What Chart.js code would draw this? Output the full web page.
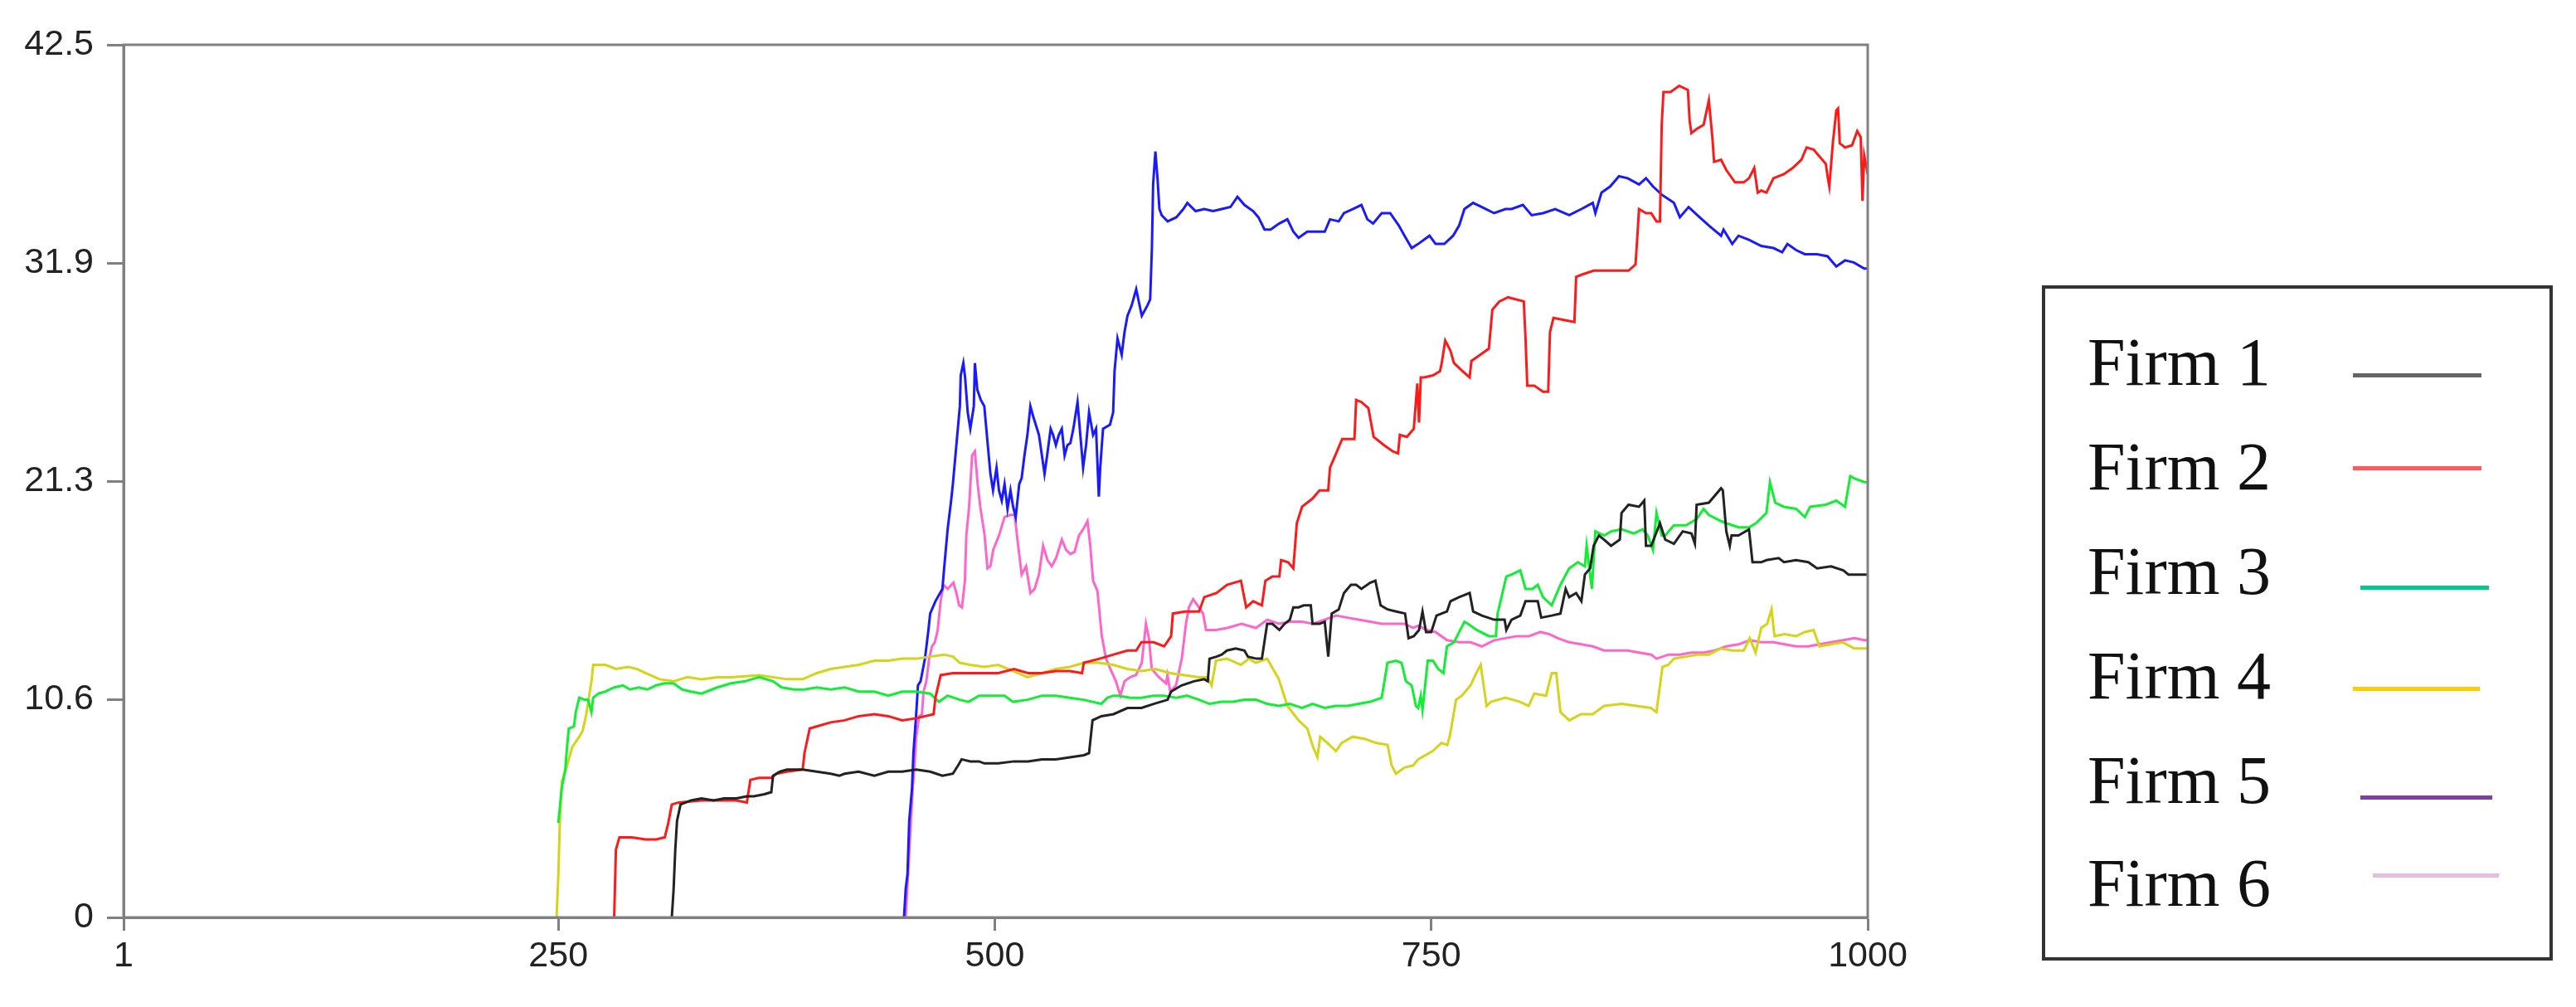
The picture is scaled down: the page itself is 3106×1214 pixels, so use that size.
<!DOCTYPE html>
<html>
<head>
<meta charset="utf-8">
<script src="https://cdn.jsdelivr.net/npm/chart.js@4/dist/chart.umd.min.js"></script>
<style>
  body { margin: 0; background: #fff; }
  #wrap { position: relative; width: 3106px; height: 1214px; }
  #legendBox {
    position: absolute; left: 2462px; top: 344px; width: 616px; height: 814px;
    border: 4px solid #333; box-sizing: border-box;
  }
  .lgText {
    position: absolute; font-family: "Liberation Serif", "Times New Roman", serif;
    font-size: 82px; line-height: 82px; color: #111; white-space: nowrap;
  }
  .lgLine { position: absolute; height: 5px; }
</style>
</head>
<body>
<div id="wrap">
  <canvas id="firmChart" width="3106" height="1214"></canvas>
  <div id="legend"></div>
</div>
<script>
// series data, [x, y]
const firmNames = ['Firm 1', 'Firm 2', 'Firm 3', 'Firm 4', 'Firm 5', 'Firm 6'];

const firm1 = [[315,0],[316,1.3],[317,3.3],[318,4.7],[320,5.5],[326,5.7],[332,5.8],[339,5.7],[345,5.8],[352,5.8],[358,5.9],[362,5.9],[368,6.0],[372,6.1],[373,6.9],[377,7.1],[381,7.2],[390,7.2],[398,7.1],[406,7.0],[411,6.9],[414,7.0],[422,7.1],[431,6.9],[439,7.1],[447,7.1],[455,7.2],[463,7.1],[470,6.9],[476,7.0],[479,7.4],[481,7.7],[486,7.6],[491,7.6],
  [494,7.5],[502,7.5],[511,7.6],[519,7.6],[527,7.7],[535,7.7],[543,7.8],[551,7.9],[554,8.0],[556,9.6],[561,9.8],[568,9.9],[576,10.2],[584,10.2],[591,10.4],[599,10.6],[601,11.0],[607,11.3],[614,11.5],[620,11.6],[622,11.5],[623,12.6],[627,12.7],[630,12.8],[633,13.0],[638,13.1],[643,13.0],[645,12.7],[650,12.6],[653,12.6],[656,14.3],[659,14.3],[663,14.0],[666,14.3],[669,14.5],[671,15.1],[674,15.1],[677,15.2],[681,15.2],[682,14.3],[686,14.3],[689,14.4],[691,12.7],[693,14.8],[697,15.0],[700,15.8],[704,16.2],[707,16.2],[710,16.0],[715,16.3],[718,16.4],[721,15.2],[725,15.0],[730,14.9],[735,14.8],[737,13.6],[740,13.7],[743,14.0],
  [745,14.9],[747,13.9],[750,13.9],[753,14.7],[756,14.8],[759,14.9],[761,15.4],[766,15.6],[772,15.8],[774,14.9],[779,14.7],[786,14.5],[788,14.5],[792,14.5],[793,14.0],[796,14.5],[801,14.7],[804,15.4],[811,15.4],[813,14.6],[819,14.7],[824,14.8],[827,16.0],[829,15.6],[833,15.8],[836,15.4],[838,16.7],[841,17.0],[843,18.1],[846,18.6],[849,18.4],[853,18.1],[858,18.4],[859,19.7],[863,20.1],[869,20.0],[872,20.3],[873,18.1],[876,18.1],[881,19.2],[884,18.4],[889,18.2],[894,18.8],[899,18.7],[901,18.2],[902,20.1],[909,20.2],[916,20.9],[917,20.8],[919,18.8],[921,18.1],[922,18.6],[926,18.6],[932,18.9],[934,17.3],[939,17.3],[942,17.4],[949,17.5],[952,17.3],[959,17.4],[966,17.3],[971,17.0],[979,17.1],[986,16.9],[989,16.7],[1000,16.7]];

const firm2 = [[282,0],[283,3.3],[285,3.9],[292,3.9],[300,3.8],[306,3.8],[311,3.9],[313,4.6],[315,5.5],[319,5.6],[332,5.7],[345,5.7],[352,5.7],[358,5.6],[360,6.7],[365,6.8],[372,6.8],[375,7.0],[381,7.1],[390,7.2],[391,8.0],[394,9.2],[398,9.3],[406,9.5],[414,9.6],[422,9.8],[431,9.9],[439,9.8],[447,9.6],[455,9.7],[465,9.9],[466,10.7],[469,11.8],[476,11.9],[483,11.9],[491,11.9],
  [494,11.9],[502,11.9],[511,12.1],[519,11.9],[527,11.9],[535,12.0],[543,12.0],[550,11.9],[551,12.4],[560,12.6],[568,12.8],[576,13.0],[581,13.0],[584,13.4],[591,13.4],[597,13.2],[601,13.7],[602,14.8],[609,14.9],[614,14.9],[617,14.9],[620,15.6],[627,15.8],[633,16.2],[641,16.4],[644,15.1],[648,15.4],[653,15.2],[655,16.4],[659,16.6],[663,16.6],[664,17.4],[668,17.3],[671,17.0],[673,19.2],[676,20.0],[682,20.4],[686,20.8],[691,20.8],[692,21.9],[695,22.5],[699,23.3],[704,23.3],[706,23.3],[707,25.2],[710,25.1],[714,24.8],[717,23.4],[723,23.0],[728,22.7],[731,22.6],[732,23.5],[736,23.4],[740,23.8],[742,26.0],
  [743,24.1],[744,26.3],[746,26.3],[751,26.4],[755,26.6],[756,27.0],[758,28.1],[761,27.6],[763,27.0],[768,26.6],[772,26.3],[773,27.1],[778,27.4],[783,27.7],[785,29.6],[789,30.0],[794,30.2],[803,30.0],[804,28.2],[805,25.9],[809,25.9],[814,25.6],[817,25.6],[818,28.5],[820,29.2],[826,29.1],[832,29.0],[833,31.2],[836,31.3],[843,31.5],[849,31.5],[856,31.5],[863,31.5],[867,31.8],[868,33.1],[869,34.5],[873,34.3],[876,34.3],[879,33.9],[881,33.9],[882,38.6],[883,40.2],[887,40.2],[892,40.5],[897,40.3],[898,38.8],[899,38.2],[902,38.4],[906,38.6],[909,39.8],[911,38.0],[912,36.8],[916,36.9],[919,36.4],[924,35.8],[929,35.8],[932,36.0],[935,36.5],[937,35.3],[939,35.4],[942,35.3],[946,36.0],[952,36.2],[957,36.5],[962,36.9],[965,37.5],[969,37.4],[972,37.1],[976,36.7],[977,36.1],[978,35.6],[980,37.7],[982,39.3],[983,39.4],[984,37.7],[987,37.5],[991,37.6],[994,38.3],[996,38.0],[997,34.9],[998,37.1],[1000,36.2]];

const firm3 = [[250,4.6],[252,6.3],[254,7.2],[255,8.3],[256,9.2],[259,9.3],[260,10.0],[262,10.7],[265,10.6],[267,10.6],[269,10.0],[270,10.7],[273,10.9],[277,11.0],[282,11.2],[287,11.3],[291,11.1],[296,11.2],[301,11.1],[306,11.3],[311,11.4],[316,11.4],[321,11.1],[326,11.0],[332,10.9],[341,11.2],[349,11.4],[357,11.5],[365,11.7],[373,11.5],[378,11.2],[385,11.1],[391,11.1],[398,11.2],[406,11.1],[414,11.2],[422,11.0],[431,11.0],[439,10.8],[447,11.0],[455,11.0],[463,10.9],[468,10.5],[473,10.8],[480,10.6],[485,10.5],[491,10.8],
  [492.5,10.8],[499,10.8],[505.6,10.8],[510.5,10.5],[518.7,10.6],[527,10.8],[535,10.8],[543,10.7],[551,10.6],[556,10.5],[561,10.4],[564.5,10.7],[568,10.8],[571,10.8],[577.6,10.7],[584,10.7],[590.7,10.8],[597,10.8],[604,10.7],[610,10.8],[617,10.6],[623,10.4],[630,10.5],[636.5,10.5],[643,10.6],[649.6,10.6],[656,10.4],[662.7,10.3],[669,10.4],[676,10.2],[682,10.4],[689,10.2],[695,10.3],[702,10.3],[708.5,10.4],[715,10.5],[721.6,10.7],[723.2,11.5],[724.9,12.4],[729.8,12.5],[733,12.4],[735.5,11.5],[738.8,11.3],[741.2,10.3],[742.5,10.2],
  [744,10.8],[745,10.1],[748,12.5],[751,12.5],[754,12.1],[757,11.9],[759,13.2],[763,13.4],[766,13.9],[769,14.4],[771,14.3],[776,14.0],[783,13.7],[787,13.7],[788,14.8],[793,16.6],[796,16.7],[801,16.9],[804,16.0],[808,16.0],[811,16.2],[814,15.6],[819,15.2],[824,16.2],[829,17.0],[834,17.3],[838,17.1],[839,18.1],[842,16.0],[844,18.8],[849,18.6],[853,18.8],[859,18.9],[866,18.7],[871,18.9],[874,18.6],[877,17.9],[879,19.7],[882,18.6],[884,18.6],[889,19.1],[896,19.1],[902,19.4],[906,19.9],[909,19.6],[916,19.3],[919,19.2],[926,19.0],[932,19.0],[936,19.2],[942,19.7],[944,21.2],[947,20.2],[952,20.0],[959,19.9],[964,19.5],[967,20.0],[976,20.1],[982,20.3],[987,20.0],[990,21.5],[992,21.4],[998,21.2],[1000,21.2]];

const firm4 = [[249,0],[250,2.0],[251,5.0],[252,6.6],[255,7.4],[258,8.3],[262,8.8],[264,9.1],[266,9.9],[269,11.5],[270,12.3],[277,12.3],[283,12.1],[290,12.2],[295,12.1],[300,11.9],[308,11.6],[316,11.5],[324,11.7],[332,11.6],[341,11.7],[349,11.7],[365,11.8],[373,11.7],[381,11.6],[390,11.6],[398,11.9],[406,12.1],[414,12.2],[422,12.3],[431,12.5],[439,12.5],[447,12.6],[455,12.6],[463,12.7],[471,12.8],[476,12.7],[480,12.4],[486,12.3],
  [494,12.2],[502,12.3],[510.5,12.0],[518.7,11.7],[527,11.9],[535,12.1],[543,12.2],[551,12.4],[559.6,12.4],[567.8,12.3],[576,12.1],[584,12.0],[592,12.1],[600.5,11.9],[608.7,11.8],[617,11.7],[621.8,11.7],[624.2,11.3],[626.7,12.5],[633,12.6],[641,12.3],[645.5,12.6],[649.6,12.4],[656,12.6],[659.4,12.1],[662.7,11.6],[667.6,10.3],[674,9.6],[679,9.2],[682.3,8.3],[684.8,7.8],[686.4,8.8],[690.5,8.5],[695.4,8.1],[698.7,8.5],[705,8.8],[711.8,8.7],[718.3,8.5],[725,8.4],[727.3,7.4],[729.8,7.0],[734.7,7.3],[739.6,7.4],[742.5,7.7],
  [750.8,8.1],[755.8,8.5],[759.2,8.4],[760.8,8.9],[764.2,10.6],[767.5,10.8],[772.5,11.3],[775.8,11.9],[778.3,12.3],[781.7,10.3],[784.2,10.5],[792.5,10.7],[800.8,10.5],[805.8,10.3],[809,10.9],[815.8,10.8],[819,11.9],[821.6,11.9],[824,10.0],[829,9.6],[835.8,9.9],[842.5,9.9],[849,10.3],[859,10.4],[867.5,10.3],[875.8,10.2],[879,10.0],[882.4,12.2],[885.8,12.3],[889,12.6],[895.8,12.7],[902.4,12.8],[909,12.8],[915.8,13.1],[922.4,13.0],[929,13.0],[932.4,13.6],[935.8,12.9],[939,14.1],[942.4,14.3],[944.9,15.0],[946.6,13.7],[952.4,13.8],[959,13.7],[964,13.9],[969,14.0],[972.4,13.2],[979,13.3],[985.7,13.4],[992.4,13.1],[1000,13.1]];

const firm5 = [[448,0],[449,1.4],[450,2.1],[451,4.7],[452.6,6.3],[453.4,8.0],[455,9.9],[456,11.3],[457.5,11.5],[460,12.6],[462,14.0],[463,14.8],[466,15.4],[470,16.0],[471,17.0],[473,18.9],[475,20.3],[476,21.1],[478,23.0],[480,24.9],[480.5,26.4],[482,27.0],[483,26.3],[484.5,24.6],[486,23.8],[488,24.9],[488.6,27.0],[490,25.7],
  [492,25.2],[494,24.9],[496,23.0],[497.5,21.6],[499,20.8],[501,21.9],[502.4,20.8],[504,20.3],[505.6,21.1],[507.3,19.9],[509,20.8],[510.5,20.0],[512,19.5],[514,21.1],[515.4,21.4],[517,22.5],[518.7,23.5],[520.4,24.9],[522,24.4],[525.3,23.5],[527,22.5],[528.5,21.6],[530,22.5],[532,23.8],[533.4,23.5],[535,23.0],[536.7,23.5],[538.4,23.8],[540,22.5],[541.6,23.0],[543.3,23.1],[545,23.8],[547.4,25.1],[549,23.5],[550.6,21.9],[552.3,23.0],[554,24.6],[556.3,23.5],[558,23.8],[559.6,20.5],[560.4,21.9],[562,23.8],[566,24.0],[567.8,24.6],[568.6,26.6],[570.3,28.2],[572.7,27.4],[574.3,28.5],[576,29.3],[578.4,29.8],[581,30.6],[584.2,29.3],[587.4,29.8],[589,30.1],[590,32.6],[590.7,35.7],[592,37.3],[593.2,36.0],[594.3,34.5],[595.6,34.2],[599,33.9],[604,34.1],[608,34.5],[610.3,34.8],[615,34.4],[620,34.5],[625,34.4],[630,34.5],[635,34.6],[639,35.1],[643,34.7],[648,34.4],[651,34.1],[654.5,33.5],[658,33.5],[663,33.8],[667.6,34.0],[671,33.4],[674,33.1],[679,33.4],[684,33.4],[689,33.4],[692,34.0],[697,33.9],[700,34.3],[705,34.5],[710,34.7],[713.4,34.0],[716.7,33.8],[721.6,34.3],[726.5,34.3],[731.4,33.7],[734.7,33.2],[738.8,32.6],[742.5,32.8],
  [749,33.2],[752.5,32.8],[757.5,32.8],[762.5,33.2],[766,33.7],[769,34.5],[774,34.8],[779,34.6],[786,34.3],[792.5,34.5],[796,34.5],[802.5,34.7],[807.5,34.2],[814,34.3],[821,34.5],[829,34.2],[836,34.5],[842.5,34.8],[844,34.3],[847.5,35.3],[852.5,35.6],[857.5,36.1],[862.5,36.0],[869,35.7],[873,36.0],[877,35.6],[882,35.2],[889,34.8],[892.4,34.1],[897.4,34.6],[902.4,34.2],[909,33.7],[916,33.2],[917.4,33.5],[922.4,32.8],[926,33.2],[932,33.0],[939,32.7],[946,32.6],[951,32.4],[954,32.8],[959,32.5],[964,32.3],[971,32.3],[977,32.2],[982,31.7],[987,32.0],[992,31.9],[998,31.6],[1000,31.6]];

const firm6 = [[449,0],[453,6.3],[454,7.4],[455,8.8],[456.7,9.8],[458.3,9.9],[459.2,11.0],[460.8,11.5],[462.4,12.6],[464,13.2],[465.7,13.4],[467.3,14.0],[469,15.4],[470.6,16.2],[473,16.0],[476.3,16.3],[478,15.8],[479.6,15.2],[481.2,15.1],[482.9,16.4],[483.7,18.6],[485.3,20.0],[487,22.5],[488.6,22.7],[490.2,21.1],
  [491.7,20.0],[494.2,18.6],[495.8,17.0],[497.5,17.1],[499.1,17.9],[502.4,18.6],[505.6,19.5],[508.9,19.6],[511.4,19.6],[513,18.4],[515.4,16.7],[517.9,17.1],[520.4,15.8],[522.8,16.0],[525.3,16.7],[527.7,18.1],[530.2,17.4],[532.6,17.1],[535.1,17.5],[538.4,18.4],[540.8,17.9],[543.3,17.7],[545.7,17.8],[548.2,18.6],[550.6,18.9],[553.1,19.3],[554.7,18.1],[556.3,16.4],[558.8,15.9],[561.3,13.7],[563.7,12.6],[566.2,12.1],[569.4,11.5],[571.9,10.8],[574.3,11.5],[577.6,11.7],[580.9,11.8],[584.2,12.4],[586.6,14.3],[588.3,13.6],[589.9,12.1],[594,11.7],[598.1,11.4],[598.9,11.8],[600.5,11.0],[603.8,11.3],[607.1,12.6],[609.5,14.3],[611.2,15.1],[613.6,15.5],[616.9,15.1],[619.3,14.8],[621,14.0],[626.7,14.0],[633.2,14.1],[641.4,14.3],[649.6,14.1],[656.1,14.5],[662.7,14.3],[669.2,14.4],[675.8,14.4],[682.3,14.3],[688.9,14.5],[695.4,14.7],[702,14.6],[708.5,14.5],[715,14.4],[721.6,14.3],[728.1,14.3],[734.7,14.3],[739.6,14.1],[742.5,14.2],
  [747.5,14.0],[752.5,13.9],[759,13.5],[766,13.4],[772.5,13.4],[779,13.2],[786,13.5],[792.5,13.6],[799,13.7],[806,13.7],[812.5,13.9],[817.5,13.8],[822.5,13.6],[829,13.4],[836,13.3],[842.5,13.2],[849,13.0],[856,13.0],[862.5,13.0],[869,12.9],[876,12.8],[879,12.6],[886,12.8],[892.4,12.8],[899,12.9],[906,12.9],[912.4,13.0],[919,13.2],[926,13.3],[932.4,13.5],[939,13.4],[946,13.4],[952.4,13.3],[959,13.2],[966,13.2],[972.4,13.3],[979,13.4],[986,13.5],[992.4,13.6],[998,13.5],[1000,13.5]];

const xTickValues = [1, 250, 500, 750, 1000];
const xTickLabels = ['1', '250', '500', '750', '1000'];
const yTickValues = [0, 10.625, 21.25, 31.875, 42.5];
const yTickLabels = ['0', '10.6', '21.3', '31.9', '42.5'];

// colours: plotted lines, and the swatches the legend box shows
const lineColors = ['#222222', '#ff1a1a', '#11ee33', '#d4d41a', '#1a1aff', '#ff66cc'];
const swatchColors = ['#666666', '#ff5a5a', '#00cc88', '#ffcc00', '#8040a0', '#e8bce0'];

const series = [firm1, firm2, firm3, firm4, firm5, firm6];

// frame round the plot area (top and right sides too)
const framePlugin = {
  id: 'frame',
  afterDraw(chart) {
    const a = chart.chartArea, c = chart.ctx;
    c.save();
    c.strokeStyle = '#808080';
    c.lineWidth = 3;
    c.strokeRect(a.left, a.top, a.right - a.left, a.bottom - a.top);
    c.restore();
  }
};

const tickFont = { family: '"Liberation Sans", Arial, sans-serif', size: 43 };

new Chart(document.getElementById('firmChart').getContext('2d'), {
  type: 'line',
  data: {
    datasets: series.map((d, i) => ({
      label: firmNames[i],
      data: d,
      borderColor: lineColors[i],
      borderWidth: 3,
      pointRadius: 0,
      tension: 0,
      fill: false
    }))
  },
  options: {
    responsive: false,
    animation: false,
    devicePixelRatio: 1,
    layout: { padding: { left: 0, top: 54, right: 854, bottom: 0 } },
    plugins: { legend: { display: false }, tooltip: { enabled: false } },
    scales: {
      x: {
        type: 'linear',
        min: 1,
        max: 1000,
        afterBuildTicks: s => { s.ticks = xTickValues.map(v => ({ value: v })); },
        afterFit: s => { s.height = 108; },
        ticks: {
          font: tickFont, color: '#222', padding: 5, maxRotation: 0, autoSkip: false,
          callback: (v, i) => xTickLabels[i]
        },
        grid: { drawOnChartArea: false, tickLength: 16, tickColor: '#808080', tickWidth: 3 },
        border: { color: '#808080', width: 3 }
      },
      y: {
        min: 0,
        max: 42.5,
        afterBuildTicks: s => { s.ticks = yTickValues.map(v => ({ value: v })); },
        afterFit: s => { s.width = 149; },
        ticks: {
          font: tickFont, color: '#222', padding: 16, autoSkip: false,
          callback: (v, i) => yTickLabels[i]
        },
        grid: { drawOnChartArea: false, tickLength: 20, tickColor: '#808080', tickWidth: 3 },
        border: { color: '#808080', width: 3 }
      }
    }
  },
  plugins: [framePlugin]
});

// legend box drawn as html, like the separate key in the original
const legendBaselines = [465, 591, 717, 843, 969, 1093];
const swatchY = [452, 564, 708, 830, 961, 1055];
const swatchX = [[2837, 2992], [2837, 2992], [2846, 3001], [2837, 2990], [2846, 3005], [2861, 3013]];

const legend = document.getElementById('legend');
legend.innerHTML = '<div id="legendBox"></div>';
firmNames.forEach((name, i) => {
  const t = document.createElement('div');
  t.className = 'lgText';
  t.textContent = name;
  t.style.left = '2517px';
  t.style.top = (legendBaselines[i] - 69) + 'px';
  legend.appendChild(t);

  const l = document.createElement('div');
  l.className = 'lgLine';
  l.style.left = swatchX[i][0] + 'px';
  l.style.width = (swatchX[i][1] - swatchX[i][0]) + 'px';
  l.style.top = (swatchY[i] - 2) + 'px';
  l.style.background = swatchColors[i];
  legend.appendChild(l);
});
</script>
</body>
</html>
